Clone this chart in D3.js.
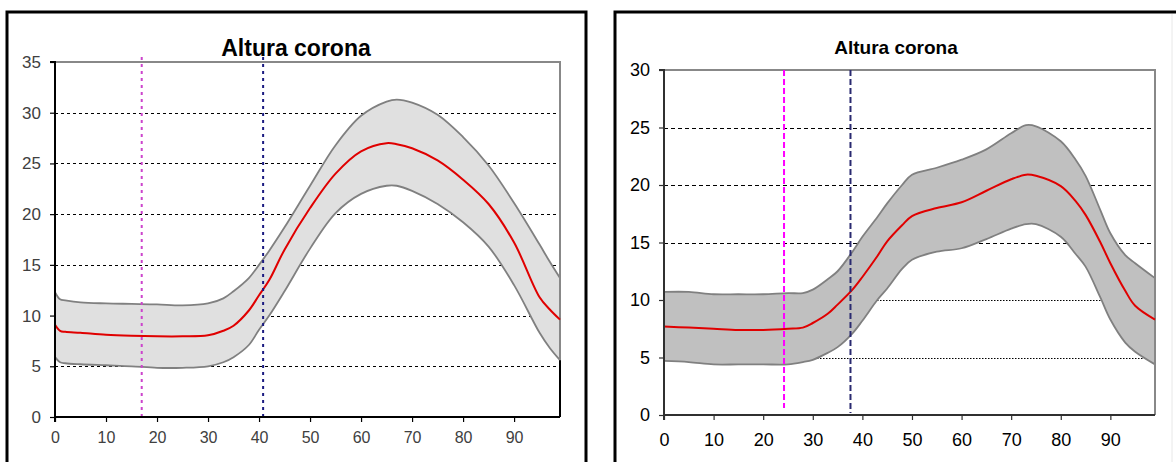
<!DOCTYPE html>
<html><head><meta charset="utf-8">
<script src="https://cdn.jsdelivr.net/npm/d3@7"></script>
<style>html,body{margin:0;padding:0;background:#fff;}svg{display:block;font-family:Arial,"Liberation Sans",sans-serif;}</style>
</head><body>
<svg id="c" width="1176" height="462"></svg>
<script>
// ---------- data ----------
const titleText = "Altura corona";
const xTicks = [0,10,20,30,40,50,60,70,80,90];

// Left chart
const leftX     = [0,1,2,5,10,15,20,25,30,33,35,38,40,42,45,50,55,60,65,67,70,75,80,85,90,95,97,99];
const leftMean  = [9.1,8.5,8.4,8.3,8.1,8.0,7.95,7.95,8.05,8.5,9.0,10.5,12.0,13.5,16.5,20.6,24.0,26.2,27.0,26.9,26.5,25.3,23.4,21.0,17.2,11.8,10.6,9.6];
const leftUpper = [12.3,11.6,11.5,11.3,11.2,11.15,11.1,11.0,11.2,11.7,12.4,13.7,15.0,16.4,18.7,22.8,26.8,29.7,31.1,31.3,31.0,29.8,27.6,24.8,21.1,17.0,15.3,13.7];
const leftLower = [5.9,5.4,5.3,5.2,5.1,5.0,4.85,4.85,5.0,5.4,5.9,7.1,8.6,10.0,12.4,16.6,20.1,22.0,22.8,22.8,22.3,21.0,19.2,16.8,13.0,8.3,6.8,5.6];
const leftYTicks = [0,5,10,15,20,25,30,35];
const leftGrid   = [5,10,15,20,25,30];
const leftMarkers = [17, 40.8];

// Right chart
const rightX     = [0,5,10,15,20,25,28,30,33,35,38,40,43,45,48,50,55,60,65,70,73,75,80,83,85,88,90,93,95,99];
const rightMean  = [7.7,7.6,7.5,7.4,7.4,7.5,7.6,8.0,8.8,9.6,10.9,12.0,13.8,15.1,16.5,17.3,18.0,18.5,19.5,20.5,20.9,20.8,19.9,18.6,17.4,15.0,13.2,10.8,9.5,8.3];
const rightUpper = [10.7,10.7,10.5,10.5,10.5,10.6,10.6,10.9,11.8,12.5,14.2,15.5,17.2,18.4,20.0,20.9,21.5,22.2,23.1,24.5,25.2,25.1,23.8,22.2,20.8,17.8,15.8,13.9,13.2,11.9];
const rightLower = [4.7,4.6,4.4,4.4,4.4,4.4,4.6,4.8,5.4,5.9,7.1,8.2,10.0,11.0,12.7,13.5,14.2,14.5,15.3,16.2,16.6,16.6,15.5,14.0,12.9,10.2,8.3,6.3,5.5,4.4];
const rightYTicks = [0,5,10,15,20,25,30];
const rightGridDashed = [15,20,25];
const rightGridDotted = [5,10];
const rightMarkers = [24.2, 37.6];

// ---------- drawing ----------
const svg = d3.select("#c");

// outer frames
svg.append("path").attr("d","M7,470 L7,12 L586,12 L586,470").attr("fill","none").attr("stroke","#000").attr("stroke-width",3);
svg.append("path").attr("d","M615,470 L615,12 L1176,12").attr("fill","none").attr("stroke","#000").attr("stroke-width",3);
svg.append("line").attr("x1",1172).attr("x2",1172).attr("y1",14).attr("y2",462).attr("stroke","#e8e8e8").attr("stroke-width",1);

function panel(o){
  const x = d3.scaleLinear().domain([0,99]).range([o.left,o.right]);
  const y = d3.scaleLinear().domain([0,o.yMax]).range([o.bottom,o.top]);
  const g = svg.append("g");
  const pts = (arr)=>o.xs.map((v,i)=>[v,arr[i]]);
  const curve = d3.curveCatmullRom.alpha(0.5);

  // grid
  o.gridDashed.forEach(v=>{
    g.append("line").attr("x1",x(0)).attr("x2",x(99)).attr("y1",Math.round(y(v))+0.5).attr("y2",Math.round(y(v))+0.5)
      .attr("stroke","#000").attr("stroke-width",1).attr("stroke-dasharray",o.gridDash);
  });
  (o.gridDotted||[]).forEach(v=>{
    g.append("line").attr("x1",x(0)).attr("x2",x(99)).attr("y1",Math.round(y(v))+0.5).attr("y2",Math.round(y(v))+0.5)
      .attr("stroke","#000").attr("stroke-width",1).attr("stroke-dasharray","1.5,1.5");
  });

  // band
  const area = d3.area().x(d=>x(d[0])).y0(d=>y(d[2])).y1(d=>y(d[1])).curve(curve);
  g.append("path").datum(o.xs.map((v,i)=>[v,o.upper[i],o.lower[i]])).attr("d",area).attr("fill",o.bandFill);
  const line = d3.line().x(d=>x(d[0])).y(d=>y(d[1])).curve(curve);
  g.append("path").datum(pts(o.upper)).attr("d",line).attr("fill","none").attr("stroke","#808080").attr("stroke-width",1.8);
  g.append("path").datum(pts(o.lower)).attr("d",line).attr("fill","none").attr("stroke","#808080").attr("stroke-width",1.8);

  // plot frame (top/right gray)
  g.append("path").attr("d",`M${x(0)},${y(o.yMax)} L${x(99)},${y(o.yMax)} L${x(99)},${y(0)}`)
    .attr("fill","none").attr("stroke","#888").attr("stroke-width",2);
  if(o.blackRightStub){
    g.append("line").attr("x1",x(99)).attr("x2",x(99)).attr("y1",y(o.lower[o.lower.length-1])).attr("y2",y(0))
      .attr("stroke","#000").attr("stroke-width",2);
  }

  // mean line
  g.append("path").datum(pts(o.mean)).attr("d",line).attr("fill","none").attr("stroke","#e00000").attr("stroke-width",2);

  // markers
  o.markers.forEach((m,i)=>{
    g.append("line").attr("x1",x(m)).attr("x2",x(m)).attr("y1",o.markerTop).attr("y2",o.markerBottom[i])
      .attr("stroke",o.markerColors[i]).attr("stroke-width",2).attr("stroke-dasharray",o.markerDash);
  });

  // axes
  const ya = d3.axisLeft(y).tickValues(o.yTicks).tickSize(5).tickPadding(o.yPad).tickFormat(d3.format("d"));
  const xa = d3.axisBottom(x).tickValues(xTicks).tickSize(5).tickPadding(o.xPad).tickFormat(d3.format("d"));
  const gy = g.append("g").attr("transform",`translate(${x(0)},0)`).call(ya);
  const gx = g.append("g").attr("transform",`translate(0,${y(0)})`).call(xa);
  [gy,gx].forEach(a=>{
    a.select(".domain").attr("stroke",o.axisColor).attr("stroke-width",2);
    a.selectAll(".tick line").attr("stroke",o.axisColor).attr("stroke-width",1.2);
    a.selectAll("text").attr("fill",o.labelColor).attr("font-size",o.labelSize).attr("font-family","Arial, 'Liberation Sans', sans-serif");
  });
  gx.selectAll("text").attr("font-size",o.xLabelSize);
  gy.select(".domain").attr("d",`M-5,${y(o.yMax)}H0V${y(0)}`);
  gx.select(".domain").attr("d",`M${x(0)},5V0H${x(99)}`);

  // title
  svg.append("text").attr("x",o.titleX).attr("y",o.titleY).attr("text-anchor","middle")
    .attr("font-weight","bold").attr("font-size",o.titleSize).attr("fill","#000").text(titleText);
}

panel({xs:leftX, mean:leftMean, upper:leftUpper, lower:leftLower, yMax:35,
  left:55, right:560, top:62, bottom:417,
  gridDashed:leftGrid, gridDash:"3,3", bandFill:"#e0e0e0", blackRightStub:true,
  markers:leftMarkers, markerColors:["#cc44cc","#1a1a80"], markerDash:"3,4", markerTop:57, markerBottom:[417,417],
  yTicks:leftYTicks, yPad:9, xPad:10, axisColor:"#000", labelColor:"#404040", labelSize:"17px", xLabelSize:"16px",
  titleX:296, titleY:56, titleSize:"23px"});

panel({xs:rightX, mean:rightMean, upper:rightUpper, lower:rightLower, yMax:30,
  left:664, right:1155, top:70, bottom:415,
  gridDashed:rightGridDashed, gridDotted:rightGridDotted, gridDash:"4,3", bandFill:"#c0c0c0", blackRightStub:false,
  markers:rightMarkers, markerColors:["#ff00ff","#2a2a70"], markerDash:"6,3", markerTop:70, markerBottom:[408,413],
  yTicks:rightYTicks, yPad:9, xPad:13, axisColor:"#303030", labelColor:"#000", labelSize:"18px", xLabelSize:"18px",
  titleX:896, titleY:54, titleSize:"19px"});
</script>
</body></html>
